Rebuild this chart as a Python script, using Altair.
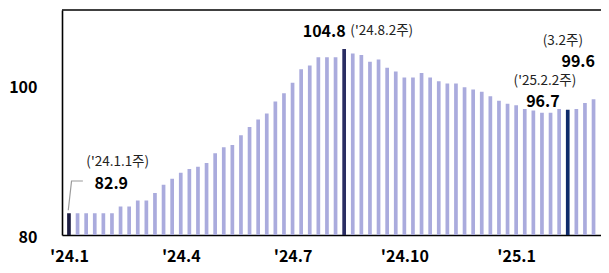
import altair as alt
import pandas as pd

# weekly index values, '24.1.1주 .. '25.3.2주
values = [82.9, 82.9, 82.9, 82.9, 82.9, 82.9, 83.8, 83.8, 84.6, 84.6,
          85.6, 86.7, 87.5, 88.3, 88.8, 89.1, 89.6, 90.9, 91.7, 92.0,
          93.3, 94.4, 95.4, 96.2, 97.8, 98.9, 100.3, 102.1, 102.6, 103.7,
          103.7, 103.7, 104.8, 104.2, 104.0, 103.1, 103.4, 102.3, 101.8, 101.0,
          101.0, 101.6, 101.0, 100.5, 100.2, 100.2, 99.7, 99.4, 99.1, 98.5,
          97.9, 97.5, 97.3, 96.8, 96.6, 96.3, 96.3, 96.8, 96.7, 96.8,
          97.6, 98.1]
highlight_idx = [0, 32, 58]
highlight_col = ["#1e1e42", "#2b2d62", "#0e2a6a"]

tick_pos = [0, 13, 26, 39, 52]
tick_labels = ["'24.1", "'24.4", "'24.7", "'24.10", "'25.1"]

# annotations
val_text = ["82.9", "104.8", "96.7", "99.6"]
val_x = [2.97, 32.18, 55.11, 61.17]
val_y = [86.8, 107.1, 97.7, 103.1]
val_align = ["left", "right", "center", "right"]

sub_text = ["('24.1.1주)", "('24.8.2주)", "('25.2.2주)", "(3.2주)"]
sub_x = [2.02, 32.72, 55.35, 57.43]
sub_y = [89.75, 107.2, 100.55, 105.85]
sub_align = ["left", "left", "center", "center"]

leader_x = [-0.08, 0.3, 1.62]
leader_y = [83.3, 87.2, 87.2]

FONT = "Noto Sans CJK KR"

colors = []
for i in range(len(values)):
    colors.append(highlight_col[highlight_idx.index(i)] if i in highlight_idx else "#aaabdd")
bars_df = pd.DataFrame({"i": list(range(len(values))), "v": values, "c": colors})

label_map = "{" + ",".join(f"'{p}': \"{t}\"" for p, t in zip(tick_pos, tick_labels)) + "}"

xscale = alt.Scale(domain=[-0.228, 61.285], nice=False, zero=False)
yscale = alt.Scale(domain=[80, 110], nice=False, zero=False)

bars = alt.Chart(bars_df).mark_bar(width=3.7).encode(
    x=alt.X("i:Q", scale=xscale,
            axis=alt.Axis(values=tick_pos, labelExpr=f"{label_map}[datum.value]",
                          title=None, ticks=False, grid=False, domainColor="black",
                          domainWidth=1.6, labelFont=FONT, labelFontSize=16,
                          labelFontWeight="bold", labelColor="black", labelPadding=13,
                          labelFlush=False)),
    y=alt.Y("v:Q", scale=yscale,
            axis=alt.Axis(values=[80, 100], title=None, ticks=False, grid=False,
                          domainColor="black", domainWidth=1.6, labelFont=FONT,
                          labelFontSize=16, labelFontWeight="bold", labelColor="black",
                          labelPadding=25, labelOffset=2)),
    y2=alt.datum(80),
    color=alt.Color("c:N", scale=None),
)

top_rule = alt.Chart(pd.DataFrame({"y": [110]})).mark_rule(color="black", strokeWidth=1.6).encode(
    y=alt.Y("y:Q", scale=yscale)
)

leader = alt.Chart(pd.DataFrame({"x": leader_x, "y": leader_y, "o": [0, 1, 2]})).mark_line(
    color="#9a9a9a", strokeWidth=1.2).encode(
    x=alt.X("x:Q", scale=xscale), y=alt.Y("y:Q", scale=yscale), order="o:O")

vals_df = pd.DataFrame({"x": val_x, "y": val_y, "t": val_text, "a": val_align})
subs_df = pd.DataFrame({"x": sub_x, "y": sub_y, "t": sub_text, "a": sub_align})

val_layers = []
for a in ["left", "right", "center"]:
    val_layers.append(
        alt.Chart(vals_df[vals_df.a == a]).mark_text(
            align=a, baseline="middle", font=FONT, fontSize=16, fontWeight="bold", color="black"
        ).encode(x=alt.X("x:Q", scale=xscale), y=alt.Y("y:Q", scale=yscale), text="t:N")
    )
    val_layers.append(
        alt.Chart(subs_df[subs_df.a == a]).mark_text(
            align=a, baseline="middle", font=FONT, fontSize=13.5, color="#222222"
        ).encode(x=alt.X("x:Q", scale=xscale), y=alt.Y("y:Q", scale=yscale), text="t:N")
    )

chart = alt.layer(bars, top_rule, leader, *val_layers).properties(
    width=539, height=225,
    padding={"left": 54, "top": 2, "right": 0, "bottom": 30},
    autosize=alt.AutoSizeParams(type="none"),
).configure_view(stroke=None)

chart.save("out.html", embed_options={"renderer": "svg", "actions": False})
